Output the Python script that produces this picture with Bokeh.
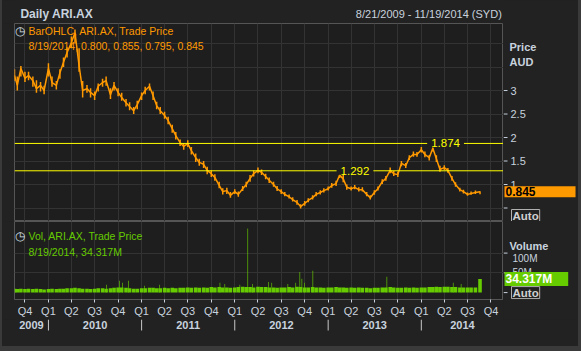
import pandas as pd
from bokeh.plotting import figure
from bokeh.models import (Range1d, LinearAxis, FixedTicker, Label, Span, Grid, Spacer,
                          ColumnDataSource, CustomJSTickFormatter)
from bokeh.core.properties import value
from bokeh.layouts import column, row
from bokeh.embed import file_html
from bokeh.resources import INLINE

# ---------------- data ----------------
x_start = "2009-08-21"
x_end = "2014-11-19"

price_dates = ([pd.Timestamp("2009-08-21")]
               + list(pd.date_range("2009-09-01", "2014-08-01", freq="SMS"))
               + [pd.Timestamp("2014-08-19")])

price_close = [
    3.32, 3.11, 3.47, 3.26, 3.32, 3.21, 3.04, 3.11, 3.00,                       # 2009
    3.47, 3.17, 3.11, 3.38, 3.60, 3.81, 4.02, 4.23, 3.53, 3.00, 3.04, 2.96,     # 2010
    2.89, 3.09, 3.17, 3.21, 2.91, 3.11, 2.96, 2.85, 2.74, 2.66, 2.57, 2.70,
    2.89, 3.00, 3.09, 2.89, 2.68, 2.57, 2.47, 2.36, 2.19, 2.04, 1.89, 1.81,     # 2011
    1.87, 1.72, 1.57, 1.47, 1.43, 1.30, 1.23, 1.15, 0.98, 0.85, 0.87, 0.77,
    0.85, 0.79, 0.91, 1.00, 1.13, 1.23, 1.30, 1.26, 1.17, 1.09, 1.00, 0.91,     # 2012
    0.85, 0.79, 0.74, 0.68, 0.62, 0.53, 0.60, 0.66, 0.72, 0.79, 0.83, 0.87,
    0.91, 0.98, 1.02, 1.20, 1.12, 0.94, 0.91, 0.94, 0.89, 0.89, 0.79, 0.72,     # 2013
    0.83, 0.91, 1.06, 1.13, 1.30, 1.23, 1.21, 1.45, 1.40, 1.57, 1.64, 1.64,
    1.74, 1.64, 1.57, 1.77, 1.55, 1.32, 1.36, 1.30, 1.13, 1.00, 0.89, 0.85,     # 2014
    0.79, 0.81, 0.83, 0.845,
]
price_high = [
    3.45, 3.30, 3.52, 3.40, 3.40, 3.30, 3.22, 3.18, 3.10,
    3.58, 3.30, 3.20, 3.45, 3.70, 3.92, 4.15, 4.30, 3.90, 3.20, 3.12, 3.05,
    2.98, 3.15, 3.25, 3.30, 3.05, 3.18, 3.05, 2.95, 2.82, 2.75, 2.65, 2.78,
    2.96, 3.08, 3.15, 2.98, 2.76, 2.65, 2.55, 2.44, 2.27, 2.12, 1.96, 1.88,
    1.94, 1.80, 1.66, 1.55, 1.50, 1.38, 1.30, 1.22, 1.06, 0.92, 0.93, 0.84,
    0.90, 0.85, 0.97, 1.06, 1.20, 1.30, 1.36, 1.32, 1.23, 1.15, 1.06, 0.97,
    0.90, 0.84, 0.79, 0.73, 0.67, 0.58, 0.65, 0.71, 0.77, 0.84, 0.88, 0.92,
    0.96, 1.03, 1.08, 1.292, 1.20, 1.00, 0.96, 0.99, 0.94, 0.94, 0.84, 0.77,
    0.88, 0.96, 1.11, 1.18, 1.36, 1.29, 1.27, 1.50, 1.46, 1.62, 1.70, 1.69,
    1.80, 1.70, 1.63, 1.874, 1.62, 1.40, 1.41, 1.35, 1.18, 1.05, 0.93, 0.89,
    0.83, 0.85, 0.87, 0.855,
]
price_low = [
    3.20, 3.00, 3.30, 3.18, 3.22, 3.08, 2.95, 2.98, 2.92,
    3.30, 3.08, 3.02, 3.25, 3.50, 3.70, 3.90, 4.00, 3.40, 2.85, 2.95, 2.85,
    2.80, 2.98, 3.08, 3.10, 2.82, 3.00, 2.88, 2.78, 2.66, 2.58, 2.50, 2.60,
    2.80, 2.92, 3.00, 2.80, 2.60, 2.50, 2.40, 2.28, 2.10, 1.96, 1.82, 1.74,
    1.80, 1.64, 1.48, 1.40, 1.35, 1.22, 1.16, 1.08, 0.92, 0.79, 0.80, 0.72,
    0.80, 0.74, 0.86, 0.94, 1.06, 1.17, 1.24, 1.20, 1.11, 1.03, 0.95, 0.86,
    0.80, 0.75, 0.70, 0.64, 0.57, 0.49, 0.55, 0.62, 0.68, 0.75, 0.79, 0.83,
    0.87, 0.93, 0.97, 1.14, 1.05, 0.89, 0.87, 0.90, 0.85, 0.85, 0.75, 0.68,
    0.78, 0.87, 1.01, 1.08, 1.24, 1.18, 1.16, 1.39, 1.35, 1.52, 1.59, 1.59,
    1.68, 1.58, 1.51, 1.70, 1.48, 1.27, 1.31, 1.25, 1.08, 0.95, 0.85, 0.81,
    0.76, 0.78, 0.80, 0.795,
]

ref_levels = [1.874, 1.292]
ref_label_dates = ["2014-04-06", "2013-04-16"]

vol_base = [
    10, 9, 10, 9, 10, 9, 10, 9, 8,
    9, 10, 9, 10, 10, 11, 11, 12, 11, 10, 10, 9,
    10, 11, 11, 10, 11, 12, 13, 13, 12, 11, 10, 10,
    11, 11, 12, 12, 11, 11, 12, 11, 12, 11, 12, 12,
    13, 12, 13, 12, 13, 12, 14, 13, 14, 13, 13, 12,
    13, 14, 15, 14, 14, 13, 15, 14, 14, 13, 13, 12,
    13, 13, 14, 13, 15, 14, 13, 13, 14, 13, 13, 12,
    13, 13, 14, 13, 13, 12, 13, 12, 13, 12, 12, 11,
    12, 12, 13, 13, 14, 13, 12, 12, 13, 12, 13, 12,
    13, 13, 14, 14, 15, 14, 15, 15, 14, 14, 13, 13,
    13, 13, 13, 34.317,
]

spike_dates = ["2010-08-17", "2010-10-07", "2010-10-18", "2010-11-11", "2011-01-13",
               "2011-03-13", "2011-11-04", "2011-11-23", "2012-01-21", "2012-02-21",
               "2012-03-11", "2012-05-13", "2012-05-25", "2012-07-27", "2012-08-27",
               "2012-09-12", "2012-09-20", "2012-10-01", "2012-11-02", "2013-08-19",
               "2014-05-06", "2014-06-06"]
spike_vol = [20, 30, 25, 30, 17, 20, 25, 22, 20, 162, 22, 27, 25, 22, 25, 52, 35,
             25, 55, 40, 25, 22]

quarter_ticks = list(pd.date_range("2009-10-01", "2014-10-01", freq="QS"))
year_starts = ["2010-01-01", "2011-01-01", "2012-01-01", "2013-01-01", "2014-01-01"]
year_names = ["2009", "2010", "2011", "2012", "2013", "2014"]

price_ticks = [0.5, 1, 1.5, 2, 2.5, 3]
price_tick_labels = ["", "1", "1.5", "2", "2.5", "3"]
price_grid = [0.5, 1, 1.5, 2, 2.5, 3, 3.5, 4]
vol_ticks = [0, 50e6, 100e6]
vol_tick_labels = ["", "50M", "100M"]
vol_grid = [50e6, 100e6]

last_price = "0.845"
last_vol = "34.317M"

# ---------------- style ----------------
BG = "#222222"
EDGE = "#3a3a3a"
PANEL = "#1e1e1e"
GRID_C = "#333333"
FRAME = "#555555"
TXT = "#c8d2de"
ORANGE = "#ff9900"
GREEN = "#66cc00"
YELLOW = "#ffff00"
FONT = "Liberation Sans"
VOL_LABEL_BASELINE = ["middle", "middle", "top"]


def ms(d):
    return pd.Timestamp(d).value / 1e6


def base_fig(w, h, xr, yr, **kw):
    opts = dict(width=w, height=h, x_range=xr, y_range=yr, x_axis_type=None,
                y_axis_type=None, toolbar_location=None, output_backend="svg",
                min_border_left=0, min_border_right=0, min_border_top=0,
                min_border_bottom=0, background_fill_color=BG, border_fill_color=BG,
                outline_line_color=None)
    opts.update(kw)
    return figure(**opts)


def slabel(fig, x, y, text, color=TXT, size="11px", bold=False, align="left",
           y_units="screen", **kw):
    fig.add_layout(Label(x=x, y=y, x_units="screen", y_units=y_units, text=text,
                         text_color=color, text_font=FONT, text_font_size=size,
                         text_font_style="bold" if bold else "normal",
                         text_align=align, text_baseline="middle", **kw))


xr = Range1d(start=ms(x_start), end=ms(x_end))
price_yr = Range1d(0.213, 4.426)
vol_yr = Range1d(-17.5e6, 180e6)
q_ms = [ms(d) for d in quarter_ticks]

# ---------------- header ----------------
hdr = base_fig(576, 23, Range1d(0, 576), Range1d(23, 0))
hdr.text(x=[7], y=[13], text=["Daily ARI.AX"], text_color=TXT, text_font=value(FONT),
         text_font_size="12px", text_font_style="bold", text_baseline="middle")
hdr.text(x=[574], y=[13], text=["8/21/2009 - 11/19/2014 (SYD)"], text_color=TXT,
         text_font=value(FONT), text_font_size="11px", text_align="right",
         text_baseline="middle")

# ---------------- price panel ----------------
p = base_fig(501, 198, xr, price_yr, min_border_left=12,
             background_fill_color=PANEL, outline_line_color=FRAME)
p.add_layout(Grid(dimension=0, ticker=FixedTicker(ticks=q_ms), grid_line_color=GRID_C))
p.add_layout(Grid(dimension=1, ticker=FixedTicker(ticks=price_grid), grid_line_color=GRID_C))
for lv in ref_levels:
    p.add_layout(Span(location=lv, dimension="width", line_color=YELLOW, line_width=1))

src = ColumnDataSource(dict(x=[ms(d) for d in price_dates], c=price_close,
                            h=price_high, l=price_low))
p.segment(x0="x", y0="l", x1="x", y1="h", source=src, line_color=ORANGE, line_width=1.5)
p.line("x", "c", source=src, line_color=ORANGE, line_width=1.5)

for lv, d in zip(ref_levels, ref_label_dates):
    p.add_layout(Label(x=ms(d), y=lv, text=f"{lv:.3f}", text_color=YELLOW,
                       text_font=FONT, text_font_size="11.5px", text_align="center",
                       text_baseline="middle", background_fill_color=PANEL,
                       padding=dict(left=4, right=4, top=0, bottom=0)))

slabel(p, 5, 198 - 7, "\u25F7", color="#d8e0ea", size="12px", align="center")
slabel(p, 14, 198 - 7, "BarOHLC, ARI.AX, Trade Price", color=ORANGE, size="10.5px")
slabel(p, 14, 198 - 22, "8/19/2014, 0.800, 0.855, 0.795, 0.845", color=ORANGE, size="10.5px")

# right-hand price scale column
ps = base_fig(75, 198, Range1d(0, 75), price_yr)
ps.segment(x0=0, y0=price_ticks, x1=4, y1=price_ticks, line_color=TXT)
ps.text(x=7, y=price_ticks, text=price_tick_labels, text_color=TXT, text_font=value(FONT),
        text_font_size="11px", text_baseline="middle")
ps.segment(x0=[0], y0=[price_yr.start], x1=[75], y1=[price_yr.start], line_color=FRAME)
slabel(ps, 6, 198 - 23, "Price", bold=True)
slabel(ps, 6, 198 - 38, "AUD", bold=True)
slabel(ps, 1, 0.845, last_price, color="#000000", bold=True, size="12px", y_units="data",
       background_fill_color=ORANGE, padding=dict(left=1, right=40, top=1, bottom=1))
slabel(ps, 8, 198 - 192, "Auto", color="#d0d0d0", bold=True, size="11.5px",
       background_fill_color=BG, border_line_color="#b0b0b0",
       padding=dict(left=1, right=1, top=0, bottom=0))

# ---------------- volume panel ----------------
QFMT = "return 'Q' + (Math.floor(new Date(tick).getUTCMonth()/3) + 1);"
v = base_fig(501, 98, xr, vol_yr, min_border_left=12, min_border_bottom=19,
             background_fill_color=PANEL, outline_line_color=FRAME)
v.add_layout(Grid(dimension=0, ticker=FixedTicker(ticks=q_ms), grid_line_color=GRID_C))
v.add_layout(Grid(dimension=1, ticker=FixedTicker(ticks=vol_grid), grid_line_color=GRID_C))

vsrc = ColumnDataSource(dict(x=[ms(d) for d in price_dates], top=[b * 1e6 for b in vol_base]))
v.vbar(x="x", top="top", bottom=0, width=14 * 86400000, source=vsrc,
       fill_color=GREEN, line_color=None)
ssrc = ColumnDataSource(dict(x=[ms(d) for d in spike_dates], top=[s * 1e6 for s in spike_vol]))
v.vbar(x="x", top="top", bottom=0, width=2.5 * 86400000, source=ssrc,
       fill_color=GREEN, line_color=None)

qa = LinearAxis(ticker=FixedTicker(ticks=q_ms), formatter=CustomJSTickFormatter(code=QFMT),
                axis_line_color=FRAME, major_tick_line_color=TXT, major_tick_out=3,
                major_tick_in=0, minor_tick_line_color=None,
                major_label_text_color=TXT, major_label_text_font=FONT,
                major_label_text_font_size="11px", major_label_standoff=2)
v.add_layout(qa, "below")

slabel(v, 5, 79 - 15, "\u25F7", color="#d8e0ea", size="12px", align="center")
slabel(v, 14, 79 - 15, "Vol, ARI.AX, Trade Price", color=GREEN, size="10.5px")
slabel(v, 14, 79 - 31, "8/19/2014, 34.317M", color=GREEN, size="10.5px")

vs = base_fig(75, 98, Range1d(0, 75), vol_yr, min_border_bottom=19)
# invisible twin axis so the side frame matches the volume frame height exactly
vs.add_layout(LinearAxis(ticker=FixedTicker(ticks=[37]), formatter=CustomJSTickFormatter(code="return 'Q1';"),
                         axis_line_color=None, major_tick_line_color=None, major_tick_out=3,
                         major_tick_in=0, minor_tick_line_color=None,
                         major_label_text_alpha=0, major_label_text_font=FONT,
                         major_label_text_font_size="11px", major_label_standoff=2), "below")
vsl = ColumnDataSource(dict(y=vol_ticks, t=vol_tick_labels, b=VOL_LABEL_BASELINE))
vs.segment(x0=0, y0=vol_ticks, x1=4, y1=vol_ticks, line_color=TXT)
vs.text(x=9, y="y", text="t", text_baseline="b", source=vsl, text_color=TXT,
        text_font=value(FONT), text_font_size="10px")
slabel(vs, 6, 79 - 25, "Volume", bold=True)
slabel(vs, 1, 34.317e6, last_vol, color="#ffffff", bold=True, size="12px", y_units="data",
       background_fill_color=GREEN, padding=dict(left=1, right=16, top=0, bottom=0))
slabel(vs, 8, 0, "Auto", color="#d0d0d0", bold=True, size="11.5px", y_units="data",
       background_fill_color=BG, border_line_color="#b0b0b0",
       padding=dict(left=1, right=1, top=0, bottom=0))

# ---------------- year row ----------------
bounds = [ms(x_start)] + [ms(d) for d in year_starts] + [ms(x_end)]
year_mids = [(a + b) / 2 for a, b in zip(bounds[:-1], bounds[1:])]
yf = base_fig(576, 27, xr, Range1d(27, 0), min_border_left=12, min_border_right=75)
yf.segment(x0=[ms(d) for d in year_starts], y0=0, x1=[ms(d) for d in year_starts], y1=11,
           line_color="#c8c8c8")
yf.text(x=year_mids, y=5, text=year_names, text_color=TXT, text_font=value(FONT),
        text_font_size="11px", text_font_style="bold", text_align="center",
        text_baseline="middle")

inner = column(hdr, row(p, ps, spacing=0), row(v, vs, spacing=0), yf,
               Spacer(width=576, height=5, background=EDGE), spacing=0, background=BG)
layout = row(Spacer(width=2, height=351, background=EDGE), inner,
             Spacer(width=3, height=351, background=EDGE), spacing=0, background=BG)
open("out.html", "w").write(file_html(layout, INLINE))
